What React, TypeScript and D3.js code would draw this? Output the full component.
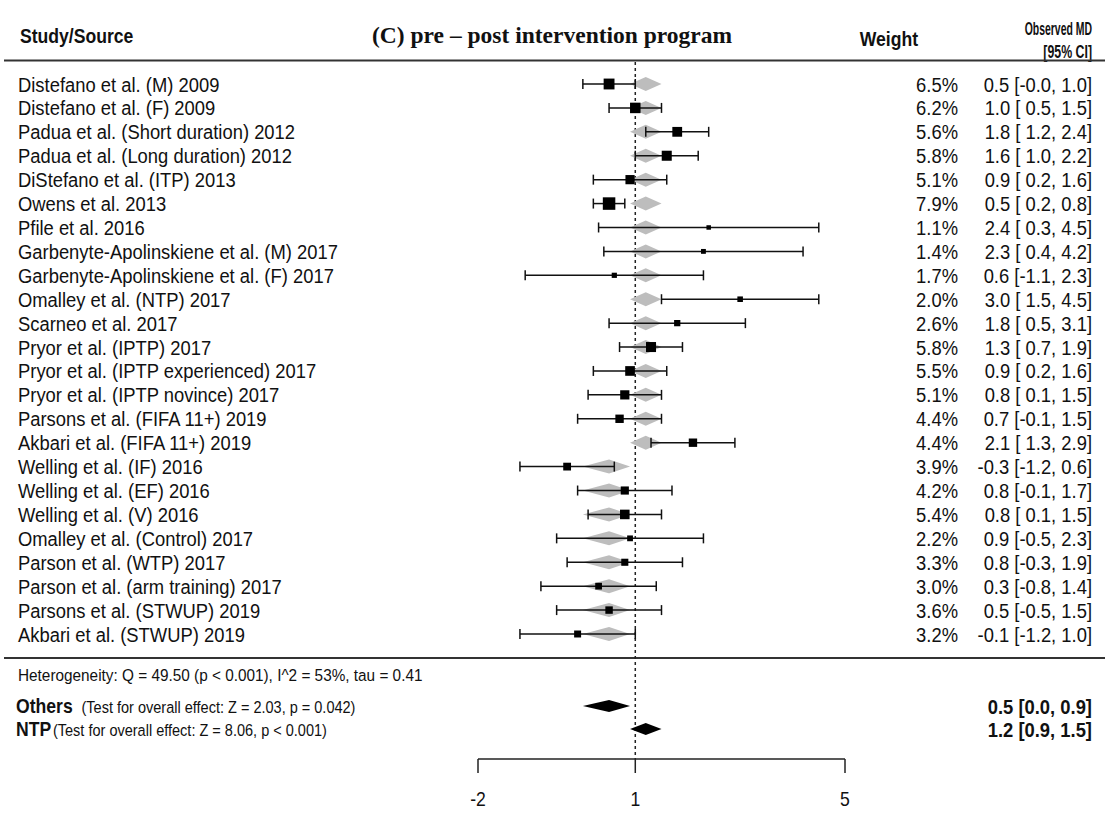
import React from "react";
import * as d3 from "d3";

const studies = [
  "Distefano et al. (M) 2009",
  "Distefano et al. (F) 2009",
  "Padua et al. (Short duration) 2012",
  "Padua et al. (Long duration) 2012",
  "DiStefano et al. (ITP) 2013",
  "Owens et al. 2013",
  "Pfile et al. 2016",
  "Garbenyte-Apolinskiene et al. (M) 2017",
  "Garbenyte-Apolinskiene et al. (F) 2017",
  "Omalley et al. (NTP) 2017",
  "Scarneo et al. 2017",
  "Pryor et al. (IPTP) 2017",
  "Pryor et al. (IPTP experienced) 2017",
  "Pryor et al. (IPTP novince) 2017",
  "Parsons et al. (FIFA 11+) 2019",
  "Akbari et al. (FIFA 11+) 2019",
  "Welling et al. (IF) 2016",
  "Welling et al. (EF) 2016",
  "Welling et al. (V) 2016",
  "Omalley et al. (Control) 2017",
  "Parson et al. (WTP) 2017",
  "Parson et al. (arm training) 2017",
  "Parsons et al. (STWUP) 2019",
  "Akbari et al. (STWUP) 2019",
];
const weights = [6.5, 6.2, 5.6, 5.8, 5.1, 7.9, 1.1, 1.4, 1.7, 2.0, 2.6, 5.8, 5.5, 5.1, 4.4, 4.4, 3.9, 4.2, 5.4, 2.2, 3.3, 3.0, 3.6, 3.2];
const estimates = [0.5, 1.0, 1.8, 1.6, 0.9, 0.5, 2.4, 2.3, 0.6, 3.0, 1.8, 1.3, 0.9, 0.8, 0.7, 2.1, -0.3, 0.8, 0.8, 0.9, 0.8, 0.3, 0.5, -0.1];
const lower = [-0.0, 0.5, 1.2, 1.0, 0.2, 0.2, 0.3, 0.4, -1.1, 1.5, 0.5, 0.7, 0.2, 0.1, -0.1, 1.3, -1.2, -0.1, 0.1, -0.5, -0.3, -0.8, -0.5, -1.2];
const upper = [1.0, 1.5, 2.4, 2.2, 1.6, 0.8, 4.5, 4.2, 2.3, 4.5, 3.1, 1.9, 1.6, 1.5, 1.5, 2.9, 0.6, 1.7, 1.5, 2.3, 1.9, 1.4, 1.5, 1.0];
const groups = ["NTP","NTP","NTP","NTP","NTP","NTP","NTP","NTP","NTP","NTP","NTP","NTP","NTP","NTP","NTP","NTP","Others","Others","Others","Others","Others","Others","Others","Others"];

const summaryNames = ["Others", "NTP"];
const summaryTests = ["(Test for overall effect: Z = 2.03, p = 0.042)", "(Test for overall effect: Z = 8.06, p < 0.001)"];
const summaryEst = [0.5, 1.2];
const summaryLo = [0.0, 0.9];
const summaryHi = [0.9, 1.5];

const axisTicks = [-2, 1, 5];
const refValue = 1;
const heterogeneity = "Heterogeneity: Q = 49.50 (p < 0.001), I^2 = 53%, tau = 0.41";
const title = "(C) pre \u2013 post intervention program";

const fmt = (v: number) => {
  const s = d3.format(".1f")(Math.abs(v));
  return (v < 0 || Object.is(v, -0)) ? "-" + s : s;
};
const fmtLo = (v: number) => (v < 0 || Object.is(v, -0) ? fmt(v) : " " + fmt(v));

const SANS = "'Liberation Sans', Arial, sans-serif";
const SERIF = "'Liberation Serif', 'Times New Roman', serif";

function T({ x, y, sx = 0.92, size = 20, anchor = "start", weight = "normal", family = SANS, children }: any) {
  return (
    <text
      transform={`translate(${x},${y}) scale(${sx},1)`}
      fontSize={size}
      fontFamily={family}
      fontWeight={weight}
      textAnchor={anchor}
      fill="#111"
      style={{ whiteSpace: "pre" }}
    >
      {children}
    </text>
  );
}

export default function App() {
  const W = 1105, H = 814;
  const x = d3.scaleLinear().domain([-2, 5]).range([478, 845]);
  const y = d3.scaleLinear().domain([0, studies.length - 1]).range([84, 634]);
  const sq = d3.scaleLinear().domain([d3.min(weights)!, d3.max(weights)!]).range([4.5, 12.5]);
  const grpIdx = (g: string) => summaryNames.indexOf(g);
  const sumY = [706, 729];
  const axisY = 759;
  const diamond = (lo: number, est: number, hi: number, cy: number, h: number) =>
    `M${x(lo)},${cy} L${x(est)},${cy - h} L${x(hi)},${cy} L${x(est)},${cy + h} Z`;
  const rowSize = 21, rowSx = 0.876;
  const smallSize = 16.5, smallSx = 0.93;

  return (
    <svg width={W} height={H} style={{ position: "absolute", left: 0, top: 0, background: "#fff" }}>
      {/* header */}
      <T x={20} y={43} size={20} sx={0.88} weight="bold">Study/Source</T>
      <T x={372} y={43} size={23.5} sx={1} weight="bold" family={SERIF}>{title}</T>
      <T x={918} y={46} size={20} sx={0.88} weight="bold" anchor="end">Weight</T>
      <T x={1092} y={35} size={19} sx={0.55} weight="bold" anchor="end">Observed MD</T>
      <T x={1092} y={58} size={19} sx={0.65} weight="bold" anchor="end">[95% CI]</T>
      <line x1={4} x2={W} y1={60.5} y2={60.5} stroke="#333" strokeWidth={2} />
      <line x1={4} x2={W} y1={658} y2={658} stroke="#333" strokeWidth={2} />

      {/* reference line */}
      <line x1={x(refValue)} x2={x(refValue)} y1={62} y2={axisY} stroke="#222" strokeWidth={1.5} strokeDasharray="3,3" />

      {/* grey fitted diamonds */}
      {studies.map((s, i) => {
        const g = grpIdx(groups[i]);
        return <path key={"gd" + i} d={diamond(summaryLo[g], summaryEst[g], summaryHi[g], y(i), 7)} fill="#bdbdbd" />;
      })}

      {/* study rows */}
      {studies.map((s, i) => {
        const cy = y(i);
        const sz = sq(weights[i]);
        return (
          <g key={"r" + i}>
            <T x={18} y={cy + 7.5} size={rowSize} sx={rowSx}>{s}</T>
            <line x1={x(lower[i])} x2={x(upper[i])} y1={cy} y2={cy} stroke="#111" strokeWidth={1.5} />
            <line x1={x(lower[i])} x2={x(lower[i])} y1={cy - 5} y2={cy + 5} stroke="#111" strokeWidth={1.5} />
            <line x1={x(upper[i])} x2={x(upper[i])} y1={cy - 5} y2={cy + 5} stroke="#111" strokeWidth={1.5} />
            <rect x={x(estimates[i]) - sz / 2} y={cy - sz / 2} width={sz} height={sz} fill="#000" />
            <T x={958} y={cy + 7.5} size={rowSize} sx={rowSx} anchor="end">{d3.format(".1f")(weights[i]) + "%"}</T>
            <T x={1092} y={cy + 7.5} size={rowSize} sx={rowSx} anchor="end">{`${fmt(estimates[i])} [${fmtLo(lower[i])}, ${fmt(upper[i])}]`}</T>
          </g>
        );
      })}

      {/* heterogeneity */}
      <T x={18} y={681} size={smallSize} sx={smallSx}>{heterogeneity}</T>

      {/* summaries */}
      {summaryNames.map((n, j) => (
        <g key={"s" + j}>
          <text transform={`translate(16,${sumY[j] + 7}) scale(0.88,1)`} fontFamily={SANS} fill="#111" style={{ whiteSpace: "pre" }}>
            <tspan fontSize={20} fontWeight="bold">{n}</tspan>
            <tspan fontSize={smallSize} dx={j === 0 ? 10 : 2}>{summaryTests[j]}</tspan>
          </text>
          <path d={diamond(summaryLo[j], summaryEst[j], summaryHi[j], sumY[j], 6)} fill="#000" />
          <T x={1092} y={sumY[j] + 7.5} size={rowSize} sx={rowSx} weight="bold" anchor="end">{`${fmt(summaryEst[j])} [${fmt(summaryLo[j])}, ${fmt(summaryHi[j])}]`}</T>
        </g>
      ))}

      {/* axis */}
      <line x1={x(axisTicks[0])} x2={x(axisTicks[axisTicks.length - 1])} y1={axisY} y2={axisY} stroke="#222" strokeWidth={1.5} />
      {axisTicks.map((t) => (
        <g key={"t" + t}>
          <line x1={x(t)} x2={x(t)} y1={axisY} y2={axisY + 14} stroke="#222" strokeWidth={1.5} />
          <T x={x(t)} y={806} size={20} sx={0.88} anchor="middle">{t}</T>
        </g>
      ))}
    </svg>
  );
}
